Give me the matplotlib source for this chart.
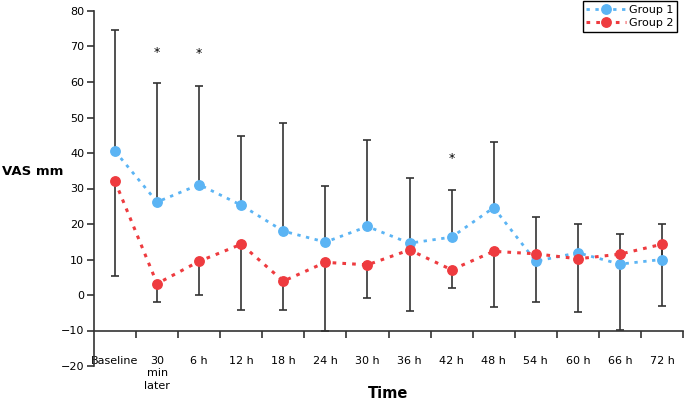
import numpy as np
import matplotlib.pyplot as plt

# ── Daten ───────────────────────────────────────────────────────────────────

time_labels = ["Baseline", "30\nmin\nlater", "6 h", "12 h", "18 h", "24 h", "30 h",
               "36 h", "42 h", "48 h", "54 h", "60 h", "66 h", "72 h"]

group1 = [40.5, 26.2, 31.1, 25.3, 18.0, 14.9, 19.3, 14.6, 16.3, 24.6, 9.5, 11.9, 8.7, 10.0]
group1_upper = [74.6, 59.6, 59.0, 44.8, 48.5, 30.6, 43.8, 33.0, 29.7, 43.2, 22.0, 19.9, 17.1, 19.9]

group2 = [32.0, 3.2, 9.5, 14.3, 3.9, 9.2, 8.5, 12.7, 7.1, 12.3, 11.6, 10.2, 11.5, 14.3]
group2_lower = [5.3, -2.1, 0.1, -4.3, -4.1, -10.2, -0.8, -4.4, 2.1, -3.4, -1.9, -4.8, -9.9, -3.1]

# Signifikanz-Sterne: (Index, y-Position)
star_idx = [1, 2, 8]
star_y = [68.3, 68.0, 38.5]

BLUE = "#5BB4F4"
RED = "#EE3B3F"

x = np.arange(len(time_labels))
g1 = np.array(group1)
g2 = np.array(group2)

fig = plt.figure(figsize=(6.85, 4.01), dpi=100)
ax = fig.add_axes([94 / 685, 1 - 366 / 401, 589 / 685, 355 / 401])

# einseitige Fehlerbalken: Gruppe 1 nach oben, Gruppe 2 nach unten
ax.errorbar(x, g1, yerr=[np.zeros_like(g1), np.array(group1_upper) - g1],
            fmt="none", ecolor="#333333", elinewidth=1.2, capsize=3, capthick=1.2, zorder=1)
ax.errorbar(x, g2, yerr=[g2 - np.array(group2_lower), np.zeros_like(g2)],
            fmt="none", ecolor="#333333", elinewidth=1.2, capsize=3, capthick=1.2, zorder=1)

ax.plot(x, g1, color=BLUE, linestyle=(0, (1.2, 2.0)), lw=2.0,
        marker="o", ms=6.8, label="Group 1", zorder=3)
ax.plot(x, g2, color=RED, linestyle=(0, (1.2, 2.0)), lw=2.2,
        marker="o", ms=6.8, label="Group 2", zorder=4)

for i, y in zip(star_idx, star_y):
    ax.text(x[i], y, "*", ha="center", va="center", fontsize=9, color="black")

# Achsen
ax.set_xlim(-0.5, len(x) - 0.5)
ax.set_ylim(-20, 80)
ax.set_yticks(np.arange(-20, 81, 10))
ax.spines["top"].set_visible(False)
ax.spines["right"].set_visible(False)
ax.spines["bottom"].set_position(("data", -10))
for s in ["left", "bottom"]:
    ax.spines[s].set_color("#333333")
    ax.spines[s].set_linewidth(1.2)

ax.set_xticks(x)
ax.set_xticklabels(time_labels, fontsize=8, va="top", linespacing=1.35)
ax.set_xticks(np.arange(0.5, len(x), 1), minor=True)
ax.tick_params(axis="x", which="major", length=0, pad=18)
ax.tick_params(axis="x", which="minor", length=5, width=1.2, color="#333333", direction="out")
ax.tick_params(axis="y", length=5, width=1.2, color="#333333", labelsize=8, pad=2)

fig.text(0.003, 1 - 172 / 401, "VAS mm", ha="left", va="center", fontsize=9.5, fontweight="bold")
fig.text(388 / 685, 1 - 394 / 401, "Time", ha="center", va="center", fontsize=10.5, fontweight="bold")

leg = fig.legend(loc="upper right", bbox_to_anchor=(677 / 685, 1 - 1 / 401), fontsize=8,
                 fancybox=False, framealpha=1, edgecolor="black", borderpad=0.35,
                 labelspacing=0.3, handlelength=3.6, handletextpad=0.2, borderaxespad=0)
leg.get_frame().set_linewidth(1.0)

fig.savefig("out.png", dpi=100)
